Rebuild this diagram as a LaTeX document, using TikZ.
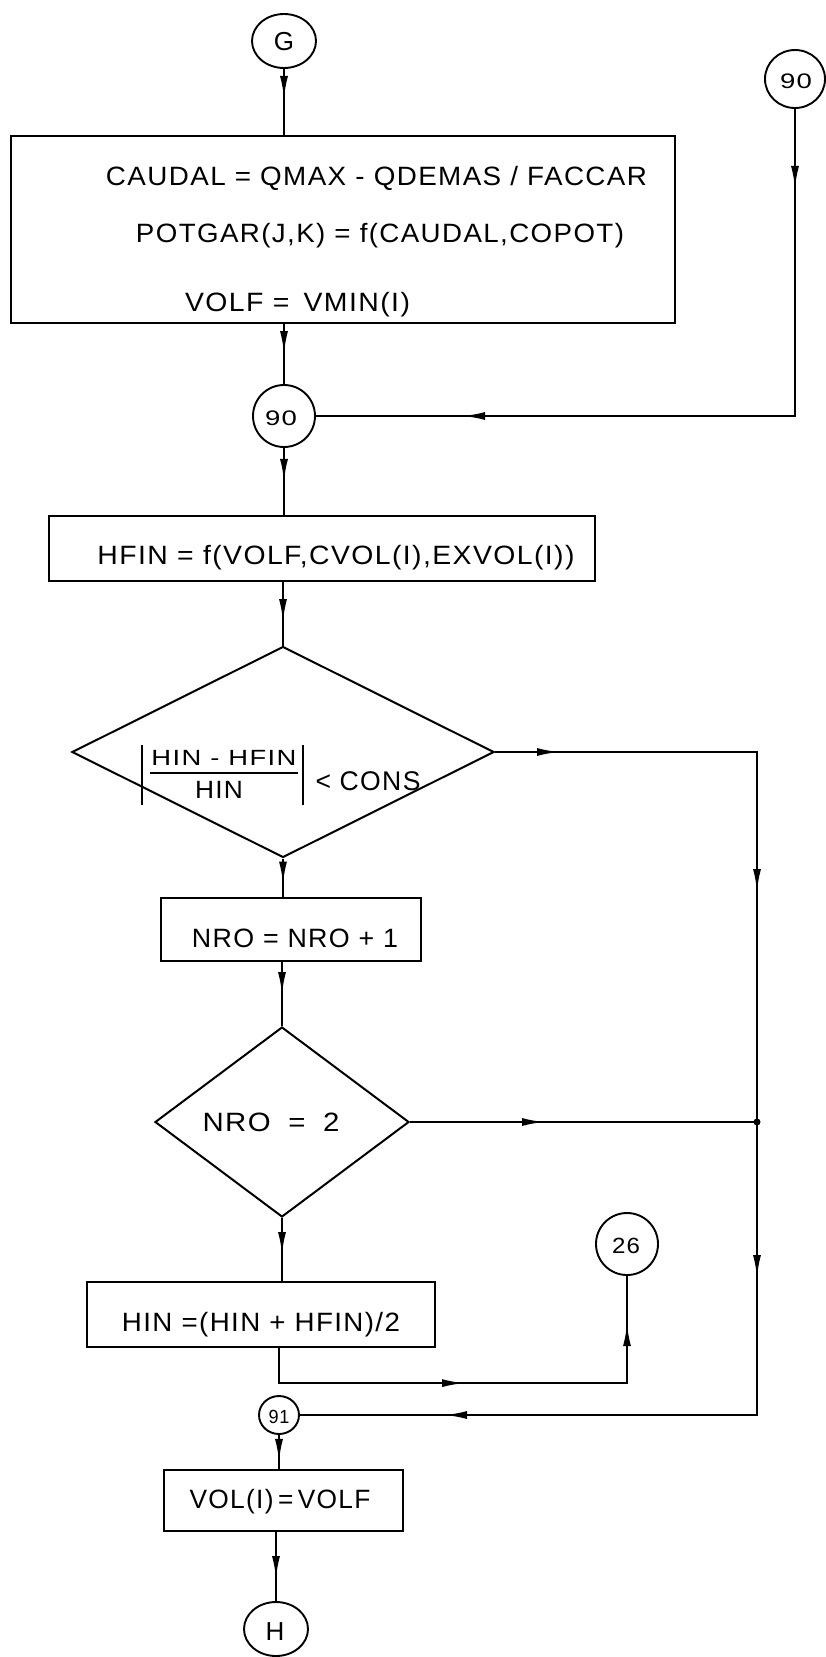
\documentclass[tikz,border=0pt]{standalone}
\usepackage{fontspec}
\setmainfont{Liberation Sans}[LetterSpace=5]
\usepackage{graphicx}
\usetikzlibrary{shapes.geometric,arrows.meta,decorations.markings}
\newcommand\FW[2]{\resizebox{#1}{\height}{#2}}
\newcommand\fsz[1]{\fontsize{#1}{#1}\selectfont}
\tikzset{
  boxn/.style={draw, rectangle, line width=2.2pt, inner sep=0pt},
  conn/.style={draw, ellipse, line width=1.9pt, inner sep=0pt},
  dian/.style={draw, diamond, line width=2pt, inner sep=0pt},
  txt/.style={inner sep=0pt, anchor=base},
  flow/.style={line width=1.8pt},
  tipa/.tip={Latex[length=22pt,width=8pt]},
  arr/.style={postaction={decorate}, decoration={markings,
      mark=at position #1 with {\arrow{tipa}}}},
  arrtwo/.style 2 args={postaction={decorate}, decoration={markings,
      mark=at position #1 with {\arrow{tipa}},
      mark=at position #2 with {\arrow{tipa}}}}
}
\begin{document}
\begin{tikzpicture}[x=1pt,y=-1pt]
\useasboundingbox[fill=white] (0,0) rectangle (826,1657);
% shapes
\node[conn, minimum width=64pt, minimum height=54pt] (g) at (284,41) {};
\node[boxn, minimum width=664pt, minimum height=187pt] (b1) at (343,229.5) {};
\node[conn, minimum width=60pt, minimum height=58pt] (c90r) at (795,79) {};
\node[conn, minimum width=62pt, minimum height=62pt] (c90l) at (284,416) {};
\node[boxn, minimum width=546pt, minimum height=65pt] (b2) at (322,548.5) {};
\node[dian, minimum width=422pt, minimum height=211pt, aspect=2] (d1) at (283,752) {};
\node[boxn, minimum width=260pt, minimum height=63pt] (b3) at (291,929.5) {};
\node[dian, minimum width=254pt, minimum height=190pt, aspect=1.34] (d2) at (282,1122) {};
\node[boxn, minimum width=348pt, minimum height=65pt] (b4) at (261,1314.5) {};
\node[conn, minimum width=62pt, minimum height=62pt] (c26) at (627,1244) {};
\node[conn, minimum width=40pt, minimum height=38pt] (c91) at (279,1415) {};
\node[boxn, minimum width=239pt, minimum height=61pt] (b5) at (283.5,1500.5) {};
\node[conn, minimum width=64pt, minimum height=54pt] (h) at (276,1629) {};
\coordinate (j) at (757,1122);
% texts
\node[txt, font=\fsz{26.5}] (t1) at (376.5,185) {\FW{541pt}{CAUDAL = QMAX - QDEMAS / FACCAR}};
\node[txt, font=\fsz{26.5}] (t2) at (380,242) {\FW{488pt}{POTGAR(J,K) = f(CAUDAL,COPOT)}};
\node[txt, font=\fsz{26.5}] (t3) at (297.5,311) {\FW{225pt}{VOLF =\hspace{0.5em}VMIN(I)}};
\node[txt, font=\fsz{26.5}] (t4) at (336,564) {\FW{477pt}{HFIN = f(VOLF,CVOL(I),EXVOL(I))}};
\node[txt, font=\fsz{22}] (tnum) at (224,765) {\FW{145pt}{HIN - HFIN}};
\node[txt, font=\fsz{25}] (tden) at (219,798) {\FW{48pt}{HIN}};
\node[txt, font=\fsz{27}] (tcons) at (368,790) {\FW{105pt}{< CONS}};
\draw[line width=1.6pt] (150,773) -- (298,773);
\draw[line width=1.6pt] (142,745) -- (142,805);
\draw[line width=1.6pt] (303,745) -- (303,805);
\node[txt, font=\fsz{26.5}] (t5) at (295,947) {\FW{206pt}{NRO = NRO + 1}};
\node[txt, font=\fsz{26.5}] (t6) at (271,1131) {\FW{137pt}{NRO\hspace{0.6em}=\hspace{0.6em}2}};
\node[txt, font=\fsz{26.5}] (t7) at (261,1331) {\FW{278pt}{HIN =(HIN + HFIN)/2}};
\node[txt, font=\fsz{26.5}] (t8) at (280,1508) {\FW{181pt}{VOL(I)\,=\,VOLF}};
\node[txt, font=\fsz{26}] (tg) at (284,50) {G};
\node[txt, font=\fsz{21}] (t90r) at (796,88) {\FW{32pt}{90}};
\node[txt, font=\fsz{21}] (t90l) at (281,425) {\FW{32pt}{90}};
\node[txt, font=\fsz{22}] (t26) at (626,1253) {\FW{28pt}{26}};
\node[txt, font=\fsz{19}] (t91) at (279,1423) {\FW{21pt}{91}};
\node[txt, font=\fsz{26}] (th) at (275,1640) {H};
% connectors
\draw[flow, arr={29pt}] (g.south) -- (g.south |- b1.north);
\draw[flow, arr={29pt}] (b1.south -| c90l) -- (c90l.north);
\draw[flow, arrtwo={79pt}{639pt}] (c90r.south) |- (c90l.east);
\draw[flow, arr={33pt}] (c90l.south) -- (c90l.south |- b2.north);
\draw[flow, arr={39pt}] (b2.south -| d1.north) -- (d1.north);
\draw[flow, arr={25pt}] (d1.south) -- (d1.south |- b3.north);
\draw[flow, arrtwo={64pt}{401pt}] (d1.east) -| (j);
\draw[flow, arr={32pt}] (b3.south -| d2.north) -- (d2.north);
\draw[flow, arr={134pt}] (d2.east) -- (j);
\draw[flow, arr={36pt}] (d2.south) -- (d2.south |- b4.north);
\draw[flow, arrtwo={220pt}{442pt}] (b4.south -| c91) -- ++(0,35) -| (c26.south);
\draw[flow, arrtwo={155pt}{605pt}] (j) |- (c91.east);
\draw[flow, arr={26pt}] (c91.south) -- (c91.south |- b5.north);
\draw[flow, arr={46pt}] (b5.south -| h) -- (h.north);
\fill (j) circle (3.5pt);
\end{tikzpicture}
\end{document}
